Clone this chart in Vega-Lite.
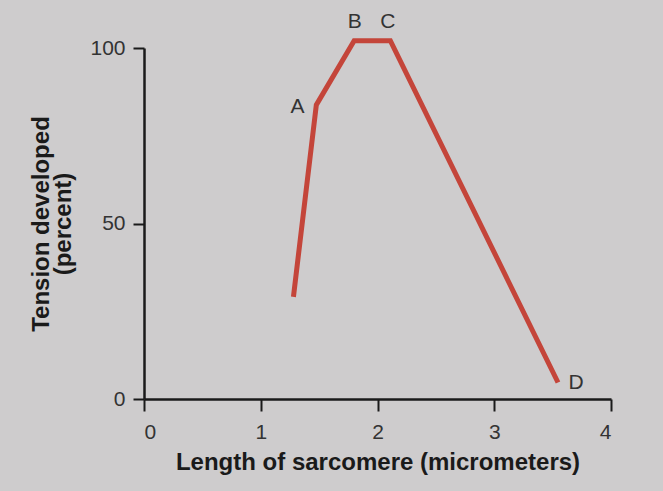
{
  "$schema": "https://vega.github.io/schema/vega-lite/v6.json",
  "width": 467,
  "height": 351,
  "autosize": "none",
  "padding": {"left": 144, "top": 48, "right": 52, "bottom": 92},
  "background": "#cecccd",
  "config": {"view": {"stroke": null}, "font": "Liberation Sans"},
  "datasets": {
    "curve": [
      {"length": 1.28, "tension": 29.1},
      {"length": 1.476, "tension": 83.8},
      {"length": 1.80, "tension": 102.1},
      {"length": 2.11, "tension": 102.1},
      {"length": 3.546, "tension": 4.7}
    ],
    "labels": [
      {"label": "A", "length": 1.314, "tension": 83.1},
      {"label": "B", "length": 1.806, "tension": 107.5},
      {"label": "C", "length": 2.088, "tension": 107.5},
      {"label": "D", "length": 3.70, "tension": 4.5}
    ]
  },
  "layer": [
    {
      "data": {"name": "curve"},
      "mark": {"type": "line", "color": "#c4453a", "strokeWidth": 5, "clip": false, "strokeJoin": "miter"},
      "encoding": {
        "x": {
          "field": "length", "type": "quantitative",
          "scale": {"domain": [0, 4], "nice": false},
          "axis": {
            "values": [0, 1, 2, 3, 4], "format": "d", "grid": false,
            "domainColor": "#1a1a1a", "domainWidth": 2.5,
            "tickColor": "#1a1a1a", "tickWidth": 2, "tickSize": 12,
            "labelFontSize": 21, "labelColor": "#333333", "labelPadding": 10,
            "title": "Length of sarcomere (micrometers)",
            "titleFontSize": 24, "titleFontWeight": "bold", "titleColor": "#1a1a1a", "titlePadding": 8
          }
        },
        "y": {
          "field": "tension", "type": "quantitative",
          "scale": {"domain": [0, 100], "nice": false},
          "axis": {
            "values": [0, 50, 100], "format": "d", "grid": false,
            "domainColor": "#1a1a1a", "domainWidth": 2.5,
            "tickColor": "#1a1a1a", "tickWidth": 2, "tickSize": 11,
            "labelFontSize": 21, "labelColor": "#333333", "labelPadding": 8,
            "title": ["Tension developed", "(percent)"],
            "titleFontSize": 24, "titleFontWeight": "bold", "titleColor": "#1a1a1a",
            "titlePadding": 14, "titleLineHeight": 22
          }
        }
      }
    },
    {
      "data": {"name": "labels"},
      "mark": {"type": "text", "fontSize": 21, "color": "#333333", "clip": false, "align": "center", "baseline": "middle"},
      "encoding": {
        "x": {"field": "length", "type": "quantitative"},
        "y": {"field": "tension", "type": "quantitative"},
        "text": {"field": "label"}
      }
    }
  ]
}
